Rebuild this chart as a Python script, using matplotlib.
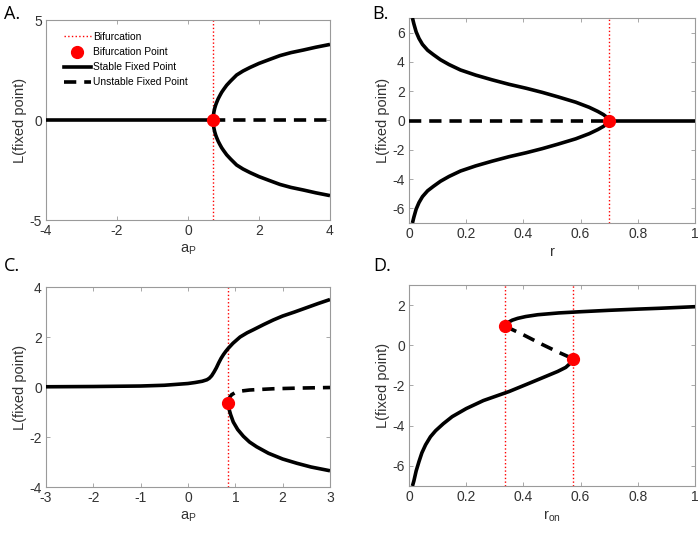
import matplotlib
matplotlib.use("Agg")
import matplotlib.pyplot as plt
from matplotlib.lines import Line2D

# -----------------------------
# Values
# -----------------------------
# A: pitchfork in a_P
a_bif = 0.71
a_stable_x = [-4.0, 0.71]
a_stable_y = [0.0, 0.0]
a_unstable_x = [0.71, 4.0]
a_unstable_y = [0.0, 0.0]
a_branch_x = [0.71, 0.715, 0.72, 0.73, 0.75, 0.78, 0.81, 0.85, 0.9, 0.95, 1.0, 1.09, 1.2,
              1.37, 1.55, 1.75, 2.0, 2.3, 2.59, 2.9, 3.25, 3.6, 4.0]
a_branch_y = [0.0, 0.2, 0.28, 0.4, 0.57, 0.75, 0.89, 1.06, 1.23, 1.39, 1.52, 1.74, 1.95,
              2.25, 2.45, 2.63, 2.83, 3.03, 3.22, 3.37, 3.5, 3.64, 3.78]

# B: pitchfork in r
b_bif = 0.7
b_stable_x = [0.7, 1.0]
b_stable_y = [0.0, 0.0]
b_unstable_x = [0.0, 0.7]
b_unstable_y = [0.0, 0.0]
b_branch_x = [0.012, 0.017, 0.025, 0.035, 0.047, 0.065, 0.085, 0.11, 0.14, 0.18, 0.233,
              0.29, 0.35, 0.41, 0.466, 0.52, 0.583, 0.63, 0.66, 0.68, 0.693, 0.7]
b_branch_y = [7.0, 6.6, 6.05, 5.6, 5.2, 4.8, 4.5, 4.15, 3.82, 3.45, 3.1,
              2.78, 2.47, 2.2, 1.92, 1.62, 1.25, 0.9, 0.62, 0.4, 0.2, 0.0]

# C: imperfect pitchfork in a_P
c_bif = 0.852
c_bif_y = -0.63
c_upper_x = [-3.0, -2.0, -1.0, -0.5, 0.0, 0.15, 0.3, 0.4, 0.45, 0.5, 0.55, 0.6, 0.65, 0.7,
             0.75, 0.8, 0.852, 0.95, 1.1, 1.25, 1.38, 1.6, 1.8, 2.0, 2.25, 2.5, 2.75, 3.0]
c_upper_y = [0.01, 0.02, 0.04, 0.07, 0.14, 0.18, 0.23, 0.29, 0.35, 0.45, 0.6, 0.77, 0.97, 1.15,
             1.3, 1.43, 1.55, 1.75, 2.0, 2.17, 2.29, 2.5, 2.68, 2.84, 3.0, 3.17, 3.34, 3.5]
c_unstable_x = [0.852, 0.86, 0.88, 0.92, 1.0, 1.1, 1.17, 1.3, 1.5, 1.8, 2.4, 3.0]
c_unstable_y = [-0.63, -0.5, -0.42, -0.31, -0.22, -0.17, -0.15, -0.12, -0.1, -0.07, -0.04, -0.02]
c_lower_x = [0.852, 0.86, 0.873, 0.9, 0.957, 1.05, 1.17, 1.3, 1.45, 1.7, 2.0, 2.3, 2.6, 3.0]
c_lower_y = [-0.63, -0.8, -0.92, -1.1, -1.4, -1.7, -1.97, -2.2, -2.39, -2.65, -2.88, -3.05, -3.2, -3.35]

# D: saddle-node pair in r_on
d_bif = [0.336, 0.575]
d_bif_y = [0.95, -0.68]
d_upper_x = [0.336, 0.34, 0.348, 0.361, 0.38, 0.408, 0.45, 0.524, 0.6, 0.699, 0.8, 0.874, 1.0]
d_upper_y = [0.95, 1.05, 1.15, 1.25, 1.34, 1.43, 1.52, 1.61, 1.67, 1.74, 1.8, 1.84, 1.92]
d_unstable_x = [0.336, 0.40, 0.466, 0.52, 0.575]
d_unstable_y = [0.95, 0.52, 0.04, -0.33, -0.68]
d_lower_x = [0.575, 0.565, 0.548, 0.52, 0.466, 0.41, 0.35, 0.3, 0.26, 0.2, 0.151, 0.12,
             0.093, 0.075, 0.058, 0.045, 0.035, 0.025, 0.017, 0.012]
d_lower_y = [-0.68, -0.88, -1.1, -1.3, -1.62, -1.95, -2.3, -2.55, -2.75, -3.15, -3.55, -3.9,
             -4.25, -4.55, -4.95, -5.35, -5.78, -6.25, -6.75, -7.0]

# -----------------------------
# Style
# -----------------------------
plt.rcParams["font.family"] = ["Liberation Sans", "DejaVu Sans"]
plt.rcParams["axes.unicode_minus"] = False
LW = 2.6
DASH = (3.4, 2.2)
MS = 8.5
TICKC = "#333333"
SPINEC = "#9a9a9a"
BIFLW = 1.0


def stable(ax, x, y):
    ax.plot(x, y, color="black", lw=LW, solid_capstyle="butt", zorder=3)


def unstable(ax, x, y):
    ax.plot(x, y, color="black", lw=LW, dashes=DASH, dash_capstyle="butt", zorder=3)


def bif(ax, x, y):
    ax.axvline(x, color="red", lw=BIFLW, ls=":", zorder=2)
    ax.plot([x], [y], "o", color="red", ms=MS, mec="red", zorder=4)


def style(ax, xlabel, xlim, ylim, xticks, yticks):
    ax.set_xlim(xlim)
    ax.set_ylim(ylim)
    ax.set_xticks(xticks)
    ax.set_yticks(yticks)
    ax.tick_params(direction="in", top=True, right=True, length=3,
                   width=0.6, color=SPINEC, labelsize=10, labelcolor=TICKC, pad=3)
    for s in ax.spines.values():
        s.set_color(SPINEC)
        s.set_linewidth(0.8)
    ax.set_xlabel(xlabel, fontsize=10.5, color=TICKC, labelpad=3)
    ax.set_ylabel("L(fixed point)", fontsize=10.5, color=TICKC, labelpad=2)


fig = plt.figure(figsize=(7.0, 5.37), dpi=100)

axA = fig.add_axes([0.0657, 0.5903, 0.4057, 0.3724])
axB = fig.add_axes([0.5843, 0.5847, 0.4086, 0.3818])
axC = fig.add_axes([0.0657, 0.0931, 0.4057, 0.3724])
axD = fig.add_axes([0.5843, 0.0950, 0.4086, 0.3743])

# A
bif(axA, a_bif, 0.0)
stable(axA, a_stable_x, a_stable_y)
unstable(axA, a_unstable_x, a_unstable_y)
stable(axA, a_branch_x, a_branch_y)
stable(axA, a_branch_x, [-v for v in a_branch_y])
style(axA, "a$_\\mathregular{P}$", (-4, 4), (-5, 5), [-4, -2, 0, 2, 4], [-5, 0, 5])

handles = [
    Line2D([], [], color="red", lw=BIFLW, ls=":"),
    Line2D([], [], color="red", marker="o", ls="none", ms=MS),
    Line2D([], [], color="black", lw=LW),
    Line2D([], [], color="black", lw=LW, dashes=DASH),
]
labels = ["Bifurcation", "Bifurcation Point", "Stable Fixed Point", "Unstable Fixed Point"]
axA.legend(handles, labels, loc="upper left", bbox_to_anchor=(0.063, 0.94),
           frameon=False, fontsize=7.4, handlelength=2.6, handletextpad=0.2,
           labelspacing=0.5, borderaxespad=0.0, borderpad=0.0)

# B
bif(axB, b_bif, 0.0)
unstable(axB, b_unstable_x, b_unstable_y)
stable(axB, b_stable_x, b_stable_y)
stable(axB, b_branch_x, b_branch_y)
stable(axB, b_branch_x, [-v for v in b_branch_y])
style(axB, "r", (0, 1), (-7, 7), [0, 0.2, 0.4, 0.6, 0.8, 1], [-6, -4, -2, 0, 2, 4, 6])
axB.set_xticklabels(["0", "0.2", "0.4", "0.6", "0.8", "1"])

# C
axC.axvline(c_bif, color="red", lw=BIFLW, ls=":", zorder=2)
stable(axC, c_upper_x, c_upper_y)
unstable(axC, c_unstable_x, c_unstable_y)
stable(axC, c_lower_x, c_lower_y)
axC.plot([c_bif], [c_bif_y], "o", color="red", ms=MS, zorder=4)
style(axC, "a$_\\mathregular{P}$", (-3, 3), (-4, 4), [-3, -2, -1, 0, 1, 2, 3], [-4, -2, 0, 2, 4])

# D
for xb in d_bif:
    axD.axvline(xb, color="red", lw=BIFLW, ls=":", zorder=2)
stable(axD, d_upper_x, d_upper_y)
unstable(axD, d_unstable_x, d_unstable_y)
stable(axD, d_lower_x, d_lower_y)
axD.plot(d_bif, d_bif_y, "o", color="red", ms=MS, ls="none", zorder=4)
style(axD, "r$_\\mathregular{on}$", (0, 1), (-7, 3), [0, 0.2, 0.4, 0.6, 0.8, 1], [-6, -4, -2, 0, 2])
axD.set_xticklabels(["0", "0.2", "0.4", "0.6", "0.8", "1"])

# panel letters
for x, y, s in [(4, 14, "A."), (372, 14, "B."), (4, 266, "C."), (373, 266, "D.")]:
    fig.text(x / 700, 1 - y / 537, s, fontsize=13, family=["Open Sans", "DejaVu Sans"],
             va="center", ha="left")

fig.savefig("out.png", dpi=100)
